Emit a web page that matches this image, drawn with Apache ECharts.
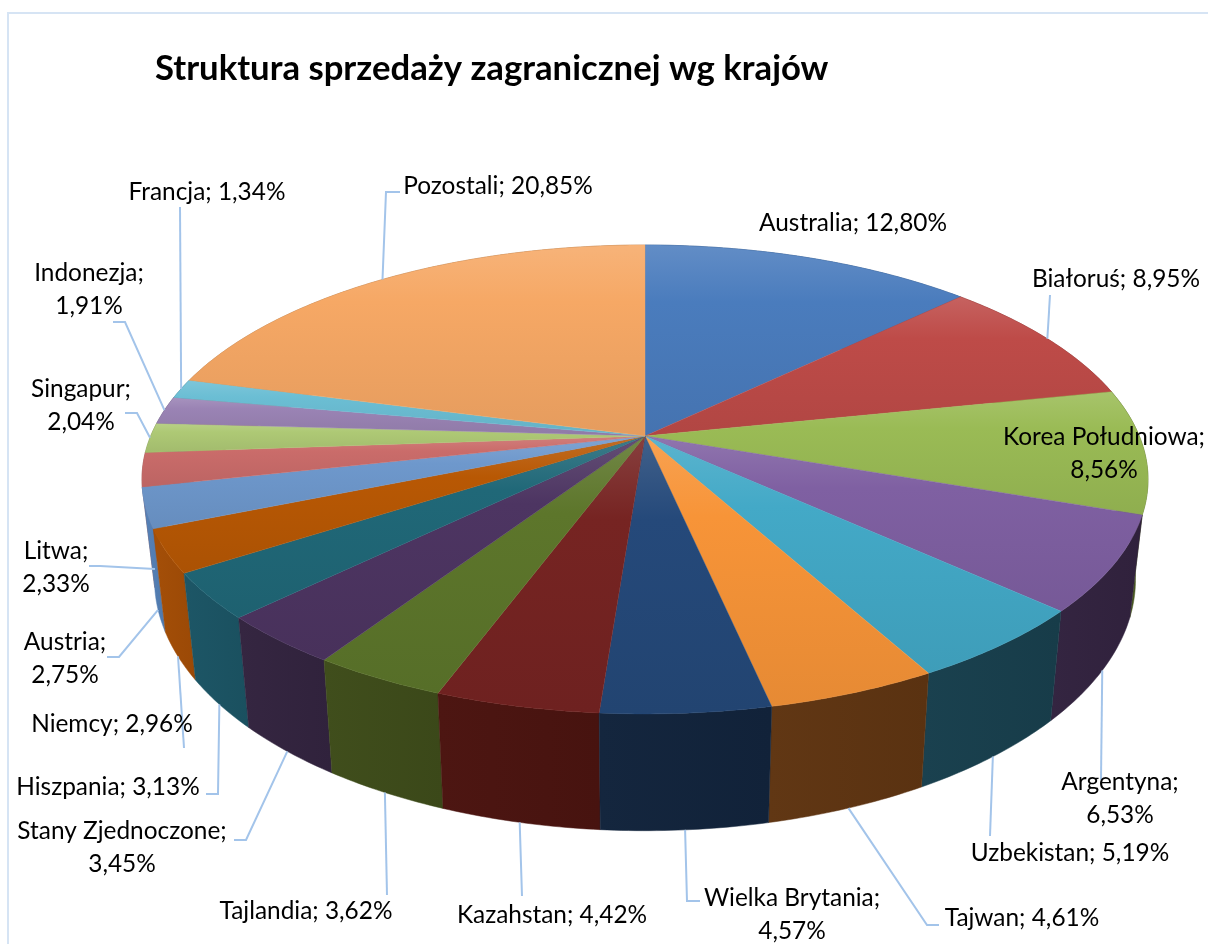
<!DOCTYPE html>
<html>
<head>
<meta charset="utf-8">
<title>Struktura sprzedaży zagranicznej wg krajów</title>
<script src="https://cdn.jsdelivr.net/npm/echarts@6/dist/echarts.min.js"></script>
<style>
  html, body { margin: 0; padding: 0; background: #fff; }
  #chart { width: 1208px; height: 944px; }
</style>
</head>
<body>
<div id="chart"></div>
<script>
var titleText = 'Struktura sprzedaży zagranicznej wg krajów';

var categories = [
  'Australia', 'Białoruś', 'Korea Południowa', 'Argentyna', 'Uzbekistan', 'Tajwan',
  'Wielka Brytania', 'Kazahstan', 'Tajlandia', 'Stany Zjednoczone', 'Hiszpania', 'Niemcy',
  'Austria', 'Litwa', 'Singapur', 'Indonezja', 'Francja', 'Pozostali'
];
var shares = [
  12.80, 8.95, 8.56, 6.53, 5.19, 4.61,
  4.57, 4.42, 3.62, 3.45, 3.13, 2.96,
  2.75, 2.33, 2.04, 1.91, 1.34, 20.85
];

var topColors = [
  '#4A7CBD', '#BE4B48', '#9ABB55', '#7F60A2', '#43A9C7', '#F79438',
  '#25497A', '#762422', '#5D762B', '#4D3562', '#206878', '#B85804',
  '#6E98CC', '#CA6C6A', '#AEC975', '#9A83B4', '#6BBED4', '#F6A865'
];
var wallColors = [
  '#30507A', '#7A2F2D', '#4A5A22', '#32233F', '#183F4D', '#5F3512',
  '#12243C', '#4B1410', '#3E4C1A', '#33243F', '#1B5464', '#A34D06',
  '#5480B6', '#8A4A48', '#6C7E48', '#5E5072', '#467A86', '#A06C42'
];

// label layout, same order as categories
var wrapAfterName = [0, 0, 1, 1, 0, 0, 1, 0, 0, 1, 0, 0, 1, 1, 1, 1, 0, 0];
var labelPos = [
  [853, 223], [1116, 279], [1104, 454], [1120, 799], [1070, 853], [1022, 918],
  [792, 915], [552, 915], [306, 911], [122, 848], [108, 787], [112, 724],
  [65, 659], [56, 568], [81, 406], [89, 290], [207, 192], [498, 186]
];
var leaderElbows = [
  [], [[1050, 295]], [], [[1101, 780]], [[990, 836]], [[927, 925], [939, 925]],
  [[687, 901], [700, 901]], [[522, 896]], [[387, 895]], [[246, 840], [234, 840]], [[218, 794], [206, 794]], [[184, 748]],
  [[119, 657], [107, 657]], [[100, 566], [89, 566]], [[137, 413], [125, 413]], [[125, 322], [113, 322]], [[180, 207]], [[386, 192], [400, 192]]
];
// 1 = leader leaves from the upper rim, 0 = from the lower rim
var leaderFromTop = [1, 1, 1, 0, 0, 0, 0, 0, 0, 0, 0, 0, 0, 0, 1, 1, 1, 1];

var labelFont = '24.4px Lato, "Open Sans", sans-serif';
var leaderColor = '#A3C4EA';
var frameColor = '#D6E4F4';

// perspective of the pie disc, apex of the slices sits at cx, topCy
var cx = 645;
var persp = 0.1854;
var topRim = { a: 494.3, b: 226.4, cy: 436 };
var lowRim = { a: 482, b: 242.5, cy: 533 };

var total = shares.reduce(function(s, v) { return s + v; }, 0);

function startAngle(i) {
  var s = 0;
  for (var k = 0; k < i; k++) {
    s += shares[k];
  }
  return s / total * Math.PI * 2;
}

function rimPoint(rim, ang) {
  var u = Math.sin(ang);
  var v = Math.cos(ang);
  var d = 1 + persp * v;
  return [cx + rim.a * u / d, rim.cy - rim.b * v / d];
}

function rimArc(rim, a0, a1) {
  var pts = [];
  var n = Math.max(2, Math.ceil((a1 - a0) / 0.012));
  for (var k = 0; k <= n; k++) {
    pts.push(rimPoint(rim, a0 + (a1 - a0) * k / n));
  }
  return pts;
}

function shade(hex, f) {
  var c = echarts.color.parse(hex);
  var target = f > 0 ? 255 : 0;
  var t = Math.abs(f);
  return 'rgb(' + [0, 1, 2].map(function(i) {
    return Math.round(c[i] + (target - c[i]) * t);
  }).join(',') + ')';
}

function renderWall(params) {
  var i = params.dataIndex;
  var a0 = startAngle(i);
  var a1 = startAngle(i + 1);
  var pts = rimArc(topRim, a0, a1).concat(rimArc(lowRim, a0, a1).reverse());
  var col = wallColors[i];
  return {
    type: 'polygon',
    // nearer walls cover the ones further back
    z2: Math.round((1 - Math.cos((a0 + a1) / 2)) * 100),
    shape: { points: pts },
    style: {
      fill: {
        type: 'linear', x: 0, y: 0, x2: 1, y2: 0,
        colorStops: [
          { offset: 0, color: shade(col, 0.01) },
          { offset: 1, color: shade(col, -0.05) }
        ]
      },
      stroke: col,
      lineWidth: 0.5
    }
  };
}

function renderTop(params) {
  var i = params.dataIndex;
  var a0 = startAngle(i);
  var a1 = startAngle(i + 1);
  var pts = [[cx, topRim.cy]].concat(rimArc(topRim, a0, a1));
  var col = topColors[i];
  return {
    type: 'polygon',
    shape: { points: pts },
    style: {
      fill: {
        type: 'linear', x: 0, y: 0, x2: 0, y2: 1,
        colorStops: [
          { offset: 0, color: shade(col, 0.13) },
          { offset: 0.3, color: col },
          { offset: 1, color: shade(col, -0.07) }
        ]
      },
      stroke: col,
      lineWidth: 0.4
    }
  };
}

function renderLabel(params) {
  var i = params.dataIndex;
  var pct = shares[i].toFixed(2).replace('.', ',') + '%';
  var text = categories[i] + ';' + (wrapAfterName[i] ? '\n' : ' ') + pct;
  var children = [];
  if (leaderElbows[i].length) {
    var mid = (startAngle(i) + startAngle(i + 1)) / 2;
    var from = rimPoint(leaderFromTop[i] ? topRim : lowRim, mid);
    children.push({
      type: 'polyline',
      shape: { points: [from].concat(leaderElbows[i]) },
      style: { fill: null, stroke: leaderColor, lineWidth: 2 }
    });
  }
  children.push({
    type: 'text',
    z2: 5,
    style: {
      text: text,
      x: labelPos[i][0],
      y: labelPos[i][1],
      align: 'center',
      verticalAlign: 'middle',
      font: labelFont,
      lineHeight: 33,
      fill: '#000'
    }
  });
  return { type: 'group', children: children };
}

var chart = echarts.init(document.getElementById('chart'), null, { renderer: 'canvas' });
chart.setOption({
  animation: false,
  backgroundColor: '#fff',
  tooltip: { show: false },
  title: {
    text: titleText,
    left: 150,
    top: 46,
    textStyle: {
      fontFamily: 'Lato, "Open Sans", sans-serif',
      fontWeight: 'bold',
      fontSize: 34.7,
      color: '#000'
    }
  },
  graphic: [
    {
      type: 'polyline',
      silent: true,
      shape: { points: [[1208, 13], [8, 13], [8, 944]] },
      style: { fill: null, stroke: frameColor, lineWidth: 2 }
    }
  ],
  series: [
    { type: 'custom', coordinateSystem: 'none', silent: true, z: 1, data: shares, renderItem: renderWall },
    { type: 'custom', coordinateSystem: 'none', silent: true, z: 2, data: shares, renderItem: renderTop },
    { type: 'custom', coordinateSystem: 'none', silent: true, z: 3, data: shares, renderItem: renderLabel }
  ]
});

window.addEventListener('resize', function() {
  chart.resize();
});
</script>
</body>
</html>
